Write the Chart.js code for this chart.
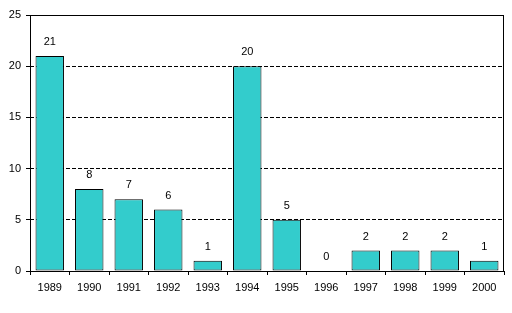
<!DOCTYPE html>
<html>
<head>
<meta charset="utf-8">
<script src="https://cdn.jsdelivr.net/npm/chart.js@4"></script>
<style>
  html, body { margin: 0; padding: 0; background: #fff; }
  #wrap { width: 512px; height: 313px; }
</style>
</head>
<body>
<div id="wrap"><canvas id="yearChart" width="512" height="313"></canvas></div>
<script>
const years = ["1989", "1990", "1991", "1992", "1993", "1994", "1995", "1996", "1997", "1998", "1999", "2000"];
const counts = [21, 8, 7, 6, 1, 20, 5, 0, 2, 2, 2, 1];
const yTicks = [0, 5, 10, 15, 20, 25];

Chart.defaults.font.family = "'Liberation Sans', Arial, sans-serif";
Chart.defaults.font.size = 11;
Chart.defaults.color = "#000";

// value labels above each bar + black frame around the plot area
const labelsAndFrame = {
  id: "labelsAndFrame",
  afterDatasetsDraw(chart) {
    const ctx = chart.ctx;
    const meta = chart.getDatasetMeta(0);
    ctx.save();
    ctx.fillStyle = "#000";
    ctx.font = "11px 'Liberation Sans', Arial, sans-serif";
    ctx.textAlign = "center";
    ctx.textBaseline = "middle";
    meta.data.forEach((bar, i) => {
      ctx.fillText(String(counts[i]), bar.x, bar.y - 14);
    });
    const a = chart.chartArea;
    ctx.strokeStyle = "#000";
    ctx.lineWidth = 1;
    ctx.strokeRect(Math.round(a.left) + 0.5, Math.round(a.top) + 0.5,
      Math.round(a.right - a.left) - 1, Math.round(a.bottom - a.top));
    ctx.restore();
  }
};

new Chart("yearChart", {
  type: "bar",
  data: {
    labels: years,
    datasets: [{
      data: counts,
      backgroundColor: "#33CCCC",
      borderColor: "#000",
      borderWidth: 1,
      borderSkipped: false,
      categoryPercentage: 0.72,
      barPercentage: 1
    }]
  },
  options: {
    responsive: false,
    animation: false,
    layout: { padding: { top: 15, right: 8, left: 0, bottom: 0 } },
    plugins: {
      legend: { display: false },
      tooltip: { enabled: false }
    },
    scales: {
      x: {
        offset: true,
        grid: {
          offset: true,
          drawOnChartArea: false,
          tickLength: 4,
          color: "#000"
        },
        border: { display: false },
        ticks: { padding: 6, maxRotation: 0, autoSkip: false },
        afterFit(scale) { scale.height = 42; }
      },
      y: {
        min: 0,
        max: 25,
        afterBuildTicks(scale) { scale.ticks = yTicks.map(v => ({ value: v })); },
        grid: {
          tickLength: 4,
          color: (c) => (c.tick && (c.tick.value === 0 || c.tick.value === 25)) ? "rgba(0,0,0,0)" : "#000",
          tickColor: "#000"
        },
        border: { display: false, dash: [4, 2] },
        ticks: { padding: 5 },
        afterFit(scale) { scale.width = 30; }
      }
    }
  },
  plugins: [labelsAndFrame]
});
</script>
</body>
</html>
